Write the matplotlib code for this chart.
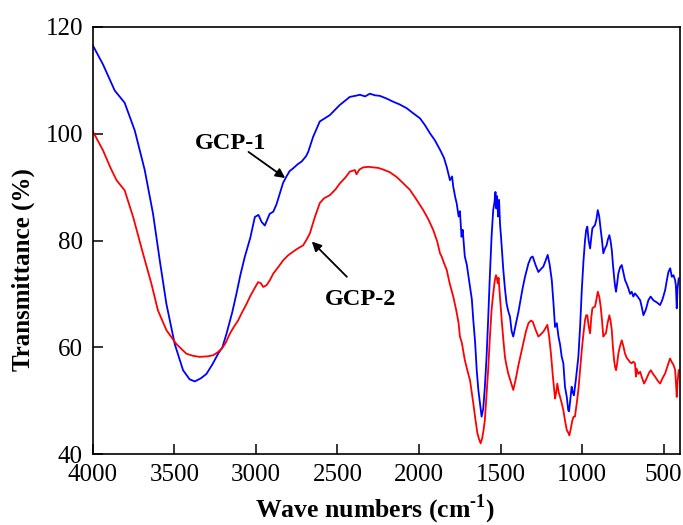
import matplotlib
matplotlib.use('Agg')
import matplotlib.pyplot as plt

plt.rcParams['font.family'] = ['Liberation Serif', 'DejaVu Serif']
plt.rcParams['mathtext.fontset'] = 'custom'
plt.rcParams['mathtext.rm'] = 'Liberation Serif:bold'
plt.rcParams['mathtext.bf'] = 'Liberation Serif:bold'

# GCP-1 (blue)
wn1 = [4000, 3937, 3865, 3804, 3742, 3681, 3630, 3589, 3548, 3497, 3446, 3406, 3374,
       3336, 3303, 3266, 3231, 3205, 3180, 3145, 3119, 3095, 3068, 3034, 3006, 2984,
       2965, 2945, 2915, 2893, 2873, 2853, 2833, 2812, 2793, 2772, 2743, 2719, 2692,
       2679, 2649, 2608, 2546, 2485, 2424, 2391, 2362, 2330, 2301, 2270, 2240, 2199,
       2158, 2119, 2076, 2038, 1994, 1963, 1933, 1903, 1871, 1847, 1830, 1810, 1797,
       1790, 1777, 1769, 1757, 1749, 1739, 1732, 1719, 1707, 1687, 1676, 1667, 1656,
       1646, 1636, 1626, 1616, 1606, 1596, 1586, 1576, 1566, 1555, 1545, 1538, 1531,
       1526, 1521, 1515, 1509, 1503, 1497, 1490, 1483, 1473, 1463, 1453, 1442, 1432,
       1422, 1412, 1401, 1391, 1381, 1365, 1350, 1339, 1329, 1314, 1303, 1284, 1268,
       1254, 1238, 1224, 1211, 1199, 1186, 1175, 1166, 1155, 1145, 1135, 1125, 1115,
       1105, 1094, 1085, 1080, 1073, 1064, 1057, 1050, 1038, 1023, 1012, 1002, 992,
       982, 975, 968, 960, 951, 944, 937, 929, 921, 912, 904, 895, 886, 878, 870,
       860, 850, 842, 833, 826, 818, 811, 804, 798, 792, 785, 778, 767, 757, 747, 737,
       726, 716, 706, 696, 686, 676, 660, 644, 634, 624, 610, 594, 580, 563, 542, 522,
       507, 491, 481, 471, 460, 450, 440, 430, 425, 420, 415, 408]
tr1 = [116.6, 113.0, 108.1, 105.8, 100.6, 93.2, 85.0, 76.3, 68.1, 60.6, 55.7, 54.0, 53.6,
       54.2, 55.0, 56.8, 58.8, 60.0, 62.5, 66.5, 70.0, 73.5, 76.9, 80.5, 84.4, 84.8,
       83.5, 82.8, 85.0, 85.4, 86.8, 88.8, 90.8, 92.0, 93.0, 93.5, 94.3, 94.8, 95.8,
       96.6, 99.4, 102.3, 103.5, 105.4, 106.9, 107.1, 107.3, 107.0, 107.5, 107.2, 107.1, 106.6,
       106.0, 105.5, 104.8, 103.9, 102.9, 101.6, 100.1, 98.8, 97.0, 95.5, 93.8, 91.3, 92.0,
       90.1, 88.0, 87.0, 84.5, 85.5, 80.7, 82.0, 77.0, 75.5, 71.3, 69.0, 65.1, 61.0,
       55.7, 52.0, 49.5, 47.0, 48.5, 52.6, 58.0, 65.1, 73.0, 80.7, 85.7, 87.0, 89.1,
       86.0, 88.3, 84.5, 87.6, 83.0, 80.7, 77.5, 74.5, 71.0, 68.2, 66.8, 65.7, 63.0,
       62.0, 63.5, 65.1, 66.5, 68.2, 71.0, 73.2, 74.5, 75.7, 76.8, 77.0, 75.3, 74.1,
       74.6, 75.1, 76.2, 77.3, 75.5, 72.6, 68.0, 63.8, 64.5, 62.0, 60.5, 58.2, 57.0,
       52.6, 50.7, 48.2, 48.0, 50.0, 52.6, 51.5, 51.0, 54.0, 58.2, 64.0, 70.7, 76.0,
       80.1, 82.0, 82.6, 80.0, 78.5, 80.5, 82.3, 82.6, 82.9, 84.0, 85.7, 84.5, 82.0, 80.0, 77.6,
       78.5, 79.1, 80.2, 81.0, 80.0, 78.2, 75.5, 73.2, 71.5, 70.4, 72.0, 73.8, 75.0,
       75.4, 74.0, 72.6, 71.8, 71.0, 70.0, 70.4, 69.5, 70.1, 69.5, 68.8, 67.5, 66.0, 67.0,
       68.8, 69.5, 68.8, 68.4, 67.9, 69.0, 70.7, 72.5, 74.1, 74.8, 73.2, 73.5, 72.6,
       71.5, 67.3, 71.0, 72.9]

# GCP-2 (red)
wn2 = [4000, 3937, 3889, 3854, 3804, 3752, 3691, 3640, 3600, 3548, 3487, 3426, 3386, 3344,
       3296, 3262, 3236, 3210, 3185, 3160, 3135, 3109, 3085, 3057, 3034, 3016, 2986,
       2969, 2955, 2935, 2915, 2893, 2863, 2832, 2803, 2772, 2743, 2710, 2692, 2669,
       2652, 2638, 2608, 2582, 2546, 2511, 2485, 2451, 2424, 2393, 2383, 2365, 2342,
       2310, 2281, 2250, 2220, 2179, 2137, 2099, 2056, 2018, 1974, 1943, 1913, 1888,
       1871, 1861, 1847, 1830, 1812, 1790, 1772, 1757, 1749, 1737, 1719, 1702, 1687,
       1676, 1667, 1654, 1642, 1632, 1622, 1612, 1604, 1596, 1586, 1576, 1566, 1555,
       1545, 1535, 1528, 1524, 1517, 1512, 1508, 1500, 1493, 1483, 1473, 1463, 1453,
       1437, 1422, 1407, 1392, 1377, 1361, 1344, 1329, 1314, 1303, 1284, 1268, 1254,
       1238, 1224, 1213, 1202, 1191, 1179, 1166, 1159, 1152, 1143, 1135, 1125, 1115,
       1105, 1094, 1085, 1078, 1069, 1060, 1052, 1044, 1033, 1023, 1012, 1002, 992,
       982, 975, 968, 960, 951, 944, 937, 929, 921, 912, 904, 895, 886, 878, 870,
       862, 854, 844, 833, 826, 818, 811, 804, 798, 792, 785, 778, 767,
       757, 747, 737, 726, 716, 706, 696, 686, 676, 670, 666, 655,
       644, 632, 620, 610, 600, 590, 579, 565, 553, 538, 522,
       507, 491, 476, 461, 450, 440, 430, 425, 420, 415, 408]
tr2 = [100.5, 96.9, 93.5, 91.3, 89.4, 84.4, 77.5, 71.9, 66.9, 63.2, 60.6, 58.8, 58.4, 58.2,
       58.3, 58.5, 59.0, 59.7, 60.8, 62.5, 63.8, 65.0, 66.5, 68.1, 69.6, 70.6, 72.2,
       72.0, 71.3, 71.6, 72.5, 73.8, 75.0, 76.3, 77.2, 77.9, 78.5, 79.1, 80.0, 81.3,
       83.0, 84.4, 87.0, 87.9, 88.5, 89.6, 90.7, 91.8, 92.9, 93.2, 92.4, 93.3, 93.7,
       93.8, 93.7, 93.6, 93.3, 92.8, 91.9, 90.8, 89.5, 87.8, 85.7, 84.0, 82.0, 79.8,
       77.6, 77.0, 75.8, 74.5, 72.0, 69.5, 67.0, 64.5, 62.0, 60.8, 57.6, 55.5, 53.8,
       51.5, 49.5, 46.5, 43.9, 42.8, 42.0, 43.0, 44.5, 46.4, 51.0, 55.7, 61.5, 67.0,
       70.0, 72.6, 73.5, 73.2, 72.0, 73.0, 71.3, 68.0, 65.1, 61.5, 58.2, 56.5, 55.1,
       53.5, 52.0, 54.0, 56.4, 58.5, 60.7, 63.0, 64.5, 65.0, 64.8, 63.2, 62.0, 62.4,
       62.9, 63.6, 64.2, 62.0, 58.8, 54.5, 50.4, 51.5, 53.2, 51.5, 50.7, 49.5, 48.2,
       46.3, 44.5, 44.0, 43.5, 44.8, 46.3, 47.0, 47.0, 49.5, 52.0, 56.0, 59.5, 62.5,
       65.1, 66.0, 66.0, 64.0, 62.6, 65.5, 67.3, 67.5, 67.6, 69.0, 70.4, 69.5, 67.6, 65.0, 62.0,
       62.4, 62.6, 64.5, 66.0, 65.0, 63.2, 60.0, 57.6, 56.3, 55.7, 57.0, 58.8, 60.3,
       61.3, 60.2, 58.8, 58.0, 57.6, 57.2, 57.0, 57.3, 57.0, 54.5, 56.0, 55.0,
       55.4, 54.2, 53.2, 53.8, 54.5, 55.2, 55.7, 55.0, 54.5, 53.8, 53.2,
       54.2, 55.1, 56.5, 57.9, 57.2, 56.7, 55.8, 53.5, 50.7, 53.5, 55.7]

fig = plt.figure(figsize=(6.83, 5.25), dpi=100)
ax = fig.add_axes([0.1357, 0.1352, 0.8599, 0.8134])

ax.plot(wn1, tr1, color='#0000ff', linewidth=1.3)
ax.plot(wn2, tr2, color='#ff0000', linewidth=1.3)

ax.set_xlim(4000, 400)
ax.set_ylim(40, 120)
ax.set_xticks([4000, 3500, 3000, 2500, 2000, 1500, 1000, 500])
ax.set_yticks([40, 60, 80, 100, 120])
ax.tick_params(axis='both', direction='in', length=7, width=1.1, labelsize=18)
ax.tick_params(axis='x', pad=7)
ax.tick_params(axis='y', pad=7)
for sp in ax.spines.values():
    sp.set_linewidth(1.2)

ax.set_xlabel('Wave numbers (cm$^{\\text{-1}}$)', fontsize=18.5, fontweight='bold')
ax.set_ylabel('Transmittance (%)', fontsize=18, fontweight='bold')
ax.xaxis.set_label_coords(0.48, -0.148)
ax.xaxis.label.set_va('baseline')
ax.yaxis.set_label_coords(-0.098, 0.433)

arrow = dict(arrowstyle='-|>', color='black', lw=1.3, mutation_scale=14, shrinkA=0, shrinkB=0)
ax.annotate('', xy=(2820, 91.7), xytext=(3045, 96.6), arrowprops=arrow)
ax.text(3155, 97.1, 'GCP-1', fontsize=17.5, fontweight='bold', ha='center', va='baseline')
ax.annotate('', xy=(2657, 79.8), xytext=(2442, 73.2), arrowprops=arrow)
ax.text(2360, 67.9, 'GCP-2', fontsize=17.5, fontweight='bold', ha='center', va='baseline')

fig.savefig('out.png', dpi=100)
